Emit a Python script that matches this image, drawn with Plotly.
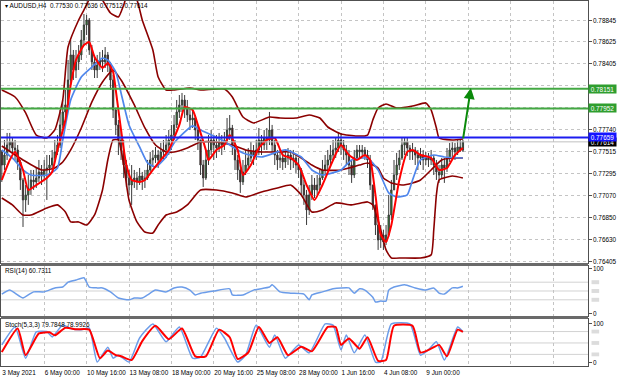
import plotly.graph_objects as go

# ---------------- data (AUDUSD H4, bar 0 = 3 May 2021 08:00) ----------------
first_open = 0.77512
closes = [
    0.77380, 0.77481, 0.77582, 0.77613, 0.77552, 0.77532, 0.77411, 0.77229, 0.77027, 0.77078,
    0.77148, 0.77229, 0.77209, 0.77249, 0.77310, 0.77269, 0.77330, 0.77350, 0.77380, 0.77451,
    0.77512, 0.77582, 0.77785, 0.77916, 0.77987, 0.78239, 0.78492, 0.78340, 0.78421, 0.78492,
    0.78643, 0.78795, 0.78845, 0.78542, 0.78421, 0.78340, 0.78390, 0.78441, 0.78421, 0.78492,
    0.78390, 0.78239, 0.77936, 0.77785, 0.77633, 0.77532, 0.77380, 0.77249, 0.77178, 0.77229,
    0.77249, 0.77209, 0.77269, 0.77229, 0.77249, 0.77330, 0.77431, 0.77451, 0.77481, 0.77431,
    0.77512, 0.77532, 0.77582, 0.77633, 0.77683, 0.77785, 0.77916, 0.77987, 0.78037, 0.77956,
    0.77885, 0.77835, 0.77855, 0.77734, 0.77633, 0.77380, 0.77249, 0.77431, 0.77532, 0.77633,
    0.77582, 0.77552, 0.77613, 0.77582, 0.77633, 0.77734, 0.77754, 0.77582, 0.77431, 0.77330,
    0.77209, 0.77310, 0.77380, 0.77451, 0.77512, 0.77481, 0.77532, 0.77633, 0.77582, 0.77653,
    0.77633, 0.77734, 0.77582, 0.77481, 0.77431, 0.77451, 0.77411, 0.77451, 0.77481, 0.77431,
    0.77451, 0.77380, 0.77330, 0.77178, 0.77078, 0.76926, 0.77078, 0.77178, 0.77128, 0.77178,
    0.77249, 0.77330, 0.77380, 0.77431, 0.77481, 0.77532, 0.77552, 0.77633, 0.77582, 0.77532,
    0.77481, 0.77380, 0.77279, 0.77451, 0.77532, 0.77512, 0.77532, 0.77481, 0.77431, 0.77178,
    0.76977, 0.76774, 0.76623, 0.76673, 0.76603, 0.76673, 0.76875, 0.77128, 0.77279, 0.77380,
    0.77451, 0.77582, 0.77613, 0.77552, 0.77512, 0.77532, 0.77481, 0.77451, 0.77481, 0.77431,
    0.77451, 0.77431, 0.77451, 0.77380, 0.77310, 0.77279, 0.77380, 0.77350, 0.77451, 0.77532,
    0.77552, 0.77512, 0.77562, 0.77530, 0.77614]
highs = [
    0.77532, 0.77633, 0.77704, 0.77704, 0.77653, 0.77633, 0.77582, 0.77431, 0.77249, 0.77178,
    0.77279, 0.77330, 0.77330, 0.77350, 0.77431, 0.77380, 0.77431, 0.77481, 0.77481, 0.77532,
    0.77633, 0.77683, 0.77936, 0.78037, 0.78138, 0.78441, 0.78643, 0.78542, 0.78542, 0.78592,
    0.78744, 0.78906, 0.78896, 0.78865, 0.78592, 0.78492, 0.78492, 0.78522, 0.78542, 0.78572,
    0.78522, 0.78421, 0.78290, 0.77956, 0.77835, 0.77734, 0.77633, 0.77431, 0.77330, 0.77380,
    0.77330, 0.77310, 0.77350, 0.77310, 0.77330, 0.77431, 0.77512, 0.77532, 0.77562, 0.77532,
    0.77603, 0.77633, 0.77683, 0.77734, 0.77785, 0.77885, 0.78037, 0.78087, 0.78108, 0.78087,
    0.78037, 0.77956, 0.77936, 0.77885, 0.77785, 0.77633, 0.77431, 0.77532, 0.77683, 0.77734,
    0.77683, 0.77683, 0.77704, 0.77683, 0.77714, 0.77855, 0.77885, 0.77785, 0.77633, 0.77481,
    0.77380, 0.77431, 0.77532, 0.77552, 0.77613, 0.77582, 0.77633, 0.77754, 0.77683, 0.77734,
    0.77754, 0.77916, 0.77785, 0.77633, 0.77532, 0.77532, 0.77512, 0.77532, 0.77552, 0.77532,
    0.77532, 0.77481, 0.77451, 0.77350, 0.77229, 0.77128, 0.77178, 0.77279, 0.77249, 0.77279,
    0.77330, 0.77431, 0.77481, 0.77532, 0.77582, 0.77633, 0.77653, 0.77704, 0.77704, 0.77633,
    0.77582, 0.77532, 0.77431, 0.77532, 0.77582, 0.77582, 0.77582, 0.77562, 0.77532, 0.77481,
    0.77178, 0.76977, 0.76825, 0.76774, 0.76724, 0.76774, 0.77078, 0.77229, 0.77431, 0.77502,
    0.77532, 0.77653, 0.77663, 0.77653, 0.77582, 0.77603, 0.77562, 0.77532, 0.77552, 0.77532,
    0.77512, 0.77502, 0.77532, 0.77481, 0.77431, 0.77380, 0.77451, 0.77451, 0.77552, 0.77603,
    0.77613, 0.77603, 0.77633, 0.77633, 0.77636]
lows = [
    0.77209, 0.77330, 0.77431, 0.77512, 0.77481, 0.77431, 0.77330, 0.77128, 0.76754, 0.76906,
    0.76977, 0.77078, 0.77128, 0.77148, 0.77209, 0.77178, 0.77229, 0.77027, 0.77279, 0.77350,
    0.77431, 0.77481, 0.77552, 0.77754, 0.77855, 0.77987, 0.78189, 0.78239, 0.78259, 0.78340,
    0.78441, 0.78592, 0.78693, 0.78492, 0.78340, 0.78259, 0.78259, 0.78340, 0.78320, 0.78360,
    0.78320, 0.78138, 0.77855, 0.77683, 0.77481, 0.77431, 0.77249, 0.77158, 0.77078, 0.76977,
    0.77148, 0.77128, 0.77178, 0.77128, 0.77148, 0.77229, 0.77310, 0.77360, 0.77401, 0.77350,
    0.77411, 0.77431, 0.77451, 0.77481, 0.77532, 0.77633, 0.77754, 0.77855, 0.77916, 0.77855,
    0.77815, 0.77734, 0.77754, 0.77633, 0.77532, 0.77279, 0.77158, 0.77229, 0.77380, 0.77481,
    0.77431, 0.77451, 0.77512, 0.77481, 0.77532, 0.77582, 0.77633, 0.77481, 0.77330, 0.77229,
    0.77098, 0.77178, 0.77279, 0.77350, 0.77411, 0.77380, 0.77431, 0.77481, 0.77481, 0.77532,
    0.77532, 0.77582, 0.77512, 0.77380, 0.77330, 0.77350, 0.77330, 0.77350, 0.77380, 0.77330,
    0.77350, 0.77300, 0.77249, 0.77078, 0.76977, 0.76774, 0.76875, 0.77027, 0.77047, 0.77078,
    0.77128, 0.77229, 0.77279, 0.77330, 0.77380, 0.77431, 0.77451, 0.77512, 0.77481, 0.77431,
    0.77380, 0.77279, 0.77199, 0.77249, 0.77431, 0.77451, 0.77461, 0.77431, 0.77350, 0.77128,
    0.76926, 0.76673, 0.76522, 0.76542, 0.76522, 0.76572, 0.76653, 0.76825, 0.77128, 0.77229,
    0.77330, 0.77431, 0.77481, 0.77471, 0.77431, 0.77431, 0.77380, 0.77330, 0.77380, 0.77330,
    0.77380, 0.77360, 0.77380, 0.77279, 0.77229, 0.77199, 0.77249, 0.77199, 0.77310, 0.77411,
    0.77461, 0.77431, 0.77481, 0.77512, 0.77512]

# Bollinger bands (dark red): bar index -> price
bb_up_x = [0, 5, 9, 13, 17, 20, 23, 25, 29, 32, 35, 38, 41, 44, 46, 48, 51, 53, 57, 59,
           62, 65, 71, 75, 84, 87, 91, 95, 101, 105, 111, 116, 120, 123, 128, 134, 138, 140, 142, 145,
           149, 155, 160, 162, 164, 165, 170, 174]
bb_up_y = [0.78138, 0.78067, 0.77906, 0.77683, 0.77653, 0.77734, 0.78037, 0.78572, 0.78845, 0.78997,
           0.79168, 0.79047, 0.78916, 0.78875, 0.78997, 0.79148, 0.79047, 0.78845, 0.78542, 0.78269,
           0.78138, 0.78138, 0.78158, 0.78138, 0.78148, 0.78067, 0.77865, 0.77805, 0.77865, 0.77855,
           0.77855, 0.77885, 0.77855, 0.77764, 0.77694, 0.77673, 0.77683, 0.77835, 0.77956, 0.77997,
           0.77956, 0.77976, 0.78007, 0.77936, 0.77754, 0.77653, 0.77633, 0.77643]
bb_mid_x = [0, 8, 15, 20, 23, 26, 30, 34, 38, 42, 45, 50, 54, 58, 62, 65, 70, 75, 81, 87,
            92, 98, 104, 109, 113, 117, 121, 128, 135, 138, 142, 144, 147, 151, 155, 158, 162, 166, 170, 174]
bb_mid_y = [0.77572, 0.77431, 0.77330, 0.77350, 0.77411, 0.77532, 0.77754, 0.78017, 0.78219, 0.78340,
            0.78239, 0.77987, 0.77754, 0.77582, 0.77512, 0.77512, 0.77552, 0.77613, 0.77613, 0.77582,
            0.77532, 0.77512, 0.77512, 0.77512, 0.77451, 0.77380, 0.77330, 0.77330, 0.77380, 0.77401,
            0.77350, 0.77249, 0.77199, 0.77178, 0.77199, 0.77229, 0.77330, 0.77431, 0.77451, 0.77451]
bb_low_x = [0, 4, 8, 11, 17, 21, 24, 26, 29, 32, 35, 38, 40, 42, 44, 46, 48, 51, 54, 57,
            59, 62, 66, 70, 75, 81, 87, 92, 98, 104, 109, 113, 117, 121, 126, 132, 138, 140, 143, 145,
            147, 151, 158, 162, 163, 164, 165, 170, 174]
bb_low_y = [0.77047, 0.76977, 0.76875, 0.76875, 0.76946, 0.76977, 0.76906, 0.76805, 0.76805, 0.76774,
            0.76875, 0.77128, 0.77431, 0.77633, 0.77633, 0.77380, 0.77027, 0.76805, 0.76703, 0.76693,
            0.76774, 0.76875, 0.76906, 0.76977, 0.77128, 0.77128, 0.77098, 0.77057, 0.77108, 0.77148,
            0.77178, 0.77078, 0.76906, 0.76926, 0.76997, 0.76977, 0.77007, 0.76977, 0.76724, 0.76522,
            0.76441, 0.76441, 0.76441, 0.76472, 0.76724, 0.77078, 0.77229, 0.77269, 0.77249]

# fast moving average (red)
ma_fast_x = [0, 3, 5, 8, 10, 13, 17, 19, 21, 24, 26, 28, 31, 33, 35, 38, 40, 42, 43, 45,
             47, 49, 52, 54, 57, 60, 63, 67, 69, 72, 74, 77, 78, 81, 84, 86, 89, 91, 94, 97,
             100, 103, 106, 109, 112, 115, 118, 121, 125, 128, 131, 134, 137, 139, 141, 143, 145, 147, 150, 153,
             155, 158, 162, 165, 168, 171, 174]
ma_fast_y = [0.77229, 0.77431, 0.77512, 0.77330, 0.77128, 0.77178, 0.77249, 0.77310, 0.77532, 0.77835,
             0.78189, 0.78441, 0.78592, 0.78622, 0.78471, 0.78360, 0.78411, 0.78320, 0.78138, 0.77734,
             0.77380, 0.77229, 0.77209, 0.77229, 0.77330, 0.77431, 0.77532, 0.77785, 0.77966, 0.77936,
             0.77785, 0.77532, 0.77431, 0.77532, 0.77582, 0.77683, 0.77532, 0.77279, 0.77380, 0.77552,
             0.77633, 0.77653, 0.77481, 0.77451, 0.77380, 0.77178, 0.77027, 0.77178, 0.77431, 0.77582,
             0.77481, 0.77431, 0.77481, 0.77431, 0.77078, 0.76673, 0.76603, 0.76774, 0.77229, 0.77512,
             0.77532, 0.77481, 0.77451, 0.77330, 0.77350, 0.77481, 0.77552]
# slow moving average (blue)
ma_slow_x = [0, 4, 8, 11, 17, 21, 23, 26, 30, 34, 38, 40, 43, 45, 48, 52, 55, 58, 62, 65,
             72, 75, 83, 91, 98, 107, 113, 117, 121, 128, 132, 138, 142, 146, 149, 153, 155, 158, 163, 167,
             174]
ma_slow_y = [0.77532, 0.77451, 0.77330, 0.77279, 0.77279, 0.77350, 0.77633, 0.78037, 0.78269, 0.78370,
             0.78461, 0.78441, 0.78320, 0.78108, 0.77785, 0.77562, 0.77401, 0.77360, 0.77461, 0.77603,
             0.77775, 0.77734, 0.77633, 0.77502, 0.77461, 0.77532, 0.77461, 0.77330, 0.77279, 0.77330,
             0.77431, 0.77451, 0.77330, 0.77098, 0.77057, 0.77078, 0.77229, 0.77431, 0.77481, 0.77461,
             0.77451]

# RSI(14)
rsi_x = [0, 3, 5, 8, 10, 12, 16, 20, 23, 25, 28, 31, 33, 36, 38, 41, 44, 48, 50, 53,
         55, 58, 62, 65, 68, 71, 73, 75, 80, 86, 87, 91, 95, 101, 102, 105, 109, 114, 116, 117,
         121, 125, 128, 131, 133, 135, 137, 140, 141, 143, 145, 146, 148, 152, 156, 160, 163, 165, 167, 170,
         172, 174]
rsi_v = [43, 52, 45, 34, 41, 48, 48, 57, 59, 70, 75, 80, 59, 57, 57, 48, 34, 30, 34, 34,
         41, 52, 48, 57, 59, 52, 41, 45, 50, 55, 41, 41, 52, 59, 64, 48, 45, 43, 30, 41,
         48, 55, 57, 57, 45, 55, 52, 36, 25, 27, 27, 52, 59, 64, 57, 52, 57, 45, 43, 57,
         57, 60.73]

# Stochastic(5,3,3): main (blue) and signal (red)
stoch_k_x = [0, 5, 9, 13, 17, 19, 23, 26, 30, 33, 36, 40, 42, 44, 48, 52, 57, 62, 67, 72,
             75, 81, 84, 89, 92, 96, 101, 103, 107, 112, 116, 122, 125, 128, 130, 133, 137, 141, 143, 147,
             154, 158, 161, 164, 167, 172, 174]
stoch_k_v = [45, 92, 10, 79, 80, 66, 97, 88, 85, 89, 0, 39, 10, 18, 0, 63, 100, 53, 92, 10,
             13, 89, 63, 0, 18, 97, 39, 71, 10, 45, 24, 100, 97, 32, 71, 24, 71, 0, 0, 100,
             100, 18, 32, 53, 5, 92, 79.78]
stoch_d_x = [0, 6, 9, 14, 18, 20, 24, 28, 33, 37, 40, 43, 45, 49, 53, 58, 63, 68, 73, 77,
             82, 86, 89, 93, 97, 101, 104, 108, 113, 117, 123, 126, 128, 131, 135, 138, 142, 145, 148, 155,
             158, 162, 165, 168, 172, 174]
stoch_d_v = [26, 88, 18, 75, 78, 70, 90, 86, 85, 10, 30, 18, 15, 5, 55, 95, 60, 88, 15, 15,
             85, 65, 8, 25, 92, 50, 65, 18, 40, 28, 92, 92, 45, 62, 35, 65, 3, 5, 95, 95,
             25, 35, 45, 15, 85, 78.99]

time_label_bars = [0, 16, 32, 48, 64, 80, 96, 112, 128, 144, 160]
time_labels = ["3 May 2021", "6 May 00:00", "10 May 16:00", "13 May 08:00", "18 May 00:00",
               "20 May 16:00", "25 May 08:00", "28 May 00:00", "1 Jun 16:00", "4 Jun 08:00",
               "9 Jun 00:00"]
grid_bars = [0, 16, 32, 48, 64, 80, 96, 112, 128, 144, 160, 176, 192, 208]
price_ticks = [0.78845, 0.78625, 0.78405, 0.78185, 0.77965, 0.77740, 0.77515,
               0.77295, 0.77070, 0.76850, 0.76630, 0.76405]
price_tick_labels = ["0.78845", "0.78625", "0.78405", "", "", "0.77740", "0.77515",
                     "0.77295", "0.77070", "0.76850", "0.76630", "0.76405"]

level_green_hi = 0.78151
level_green_lo = 0.77952
level_blue = 0.77659
last_price = 0.77614
arrow_tail = (174, 0.77633)
arrow_tip = (177, 0.78158)
header = "▾ AUDUSD,H4  0.77530 0.77636 0.77512 0.77614"
rsi_title = "RSI(14) 60.7311"
stoch_title = "Stoch(5,3,3) 79.7848 78.9926"
rsi_levels = [70, 50, 30]
stoch_levels = [80, 50, 20]

# ---------------- figure ----------------
W, H = 620, 382
FONT = "Liberation Sans, Arial, sans-serif"
FS = 6.4
GRID = "#c4c4c4"
FRAME = "#505050"
DARKRED = "#8b0000"

dom_main = [0.2822, 1.0]
dom_rsi = [0.137, 0.274]
dom_sto = [0.0, 0.1288]

opens = [first_open] + closes[:-1]
bars = list(range(len(closes)))

fig = go.Figure()
fig.add_trace(go.Candlestick(
    x=bars, open=opens, high=highs, low=lows, close=closes,
    increasing=dict(line=dict(color="#3a3a3a", width=1), fillcolor="#1f9a1f"),
    decreasing=dict(line=dict(color="#3a3a3a", width=1), fillcolor="#5a0000"),
    whiskerwidth=0, xaxis="x", yaxis="y", showlegend=False, hoverinfo="skip"))

def line(x, y, color, width, xa="x", ya="y"):
    fig.add_trace(go.Scatter(x=x, y=y, mode="lines", xaxis=xa, yaxis=ya,
                             line=dict(color=color, width=width, shape="spline", smoothing=0.5),
                             showlegend=False, hoverinfo="skip"))

line(bb_up_x, bb_up_y, DARKRED, 1.6)
line(bb_low_x, bb_low_y, DARKRED, 1.6)
line(bb_mid_x, bb_mid_y, DARKRED, 1.6)
line(ma_slow_x, ma_slow_y, "#4f86ec", 1.7)
line(ma_fast_x, ma_fast_y, "#ff0000", 2)
line(rsi_x, rsi_v, "#6b9ce9", 1.5, "x2", "y2")
line(stoch_k_x, stoch_k_v, "#6b9ce9", 1.5, "x3", "y3")
line(stoch_d_x, stoch_d_v, "#ff0000", 2, "x3", "y3")

shapes = []
def hline(y, color, width, yref="y", layer="above"):
    shapes.append(dict(type="line", xref="paper", x0=0, x1=1, yref=yref, y0=y, y1=y,
                       line=dict(color=color, width=width), layer=layer))

hline(last_price, "#c0c0c0", 1)
hline(level_green_hi, "#43a843", 2)
hline(level_green_lo, "#43a843", 2)
hline(level_blue, "#1c1cf0", 2)
for lv in rsi_levels:
    hline(lv, "#d2d2d2", 1, "y2", "below")
    shapes.append(dict(type="rect", xref="paper", x0=1.006, x1=1.019, yref="y2",
                       y0=lv - 4.5, y1=lv + 4.5, fillcolor="#dcdcdc", line=dict(width=0)))
for lv in stoch_levels:
    hline(lv, "#d2d2d2", 1, "y3", "below")
    shapes.append(dict(type="rect", xref="paper", x0=1.006, x1=1.019, yref="y3",
                       y0=lv - 5, y1=lv + 5, fillcolor="#dcdcdc", line=dict(width=0)))
# thick panel separators
for top, bot in [(dom_main[0], dom_rsi[1]), (dom_rsi[0], dom_sto[1])]:
    shapes.append(dict(type="rect", xref="paper", x0=0, x1=1, yref="paper", y0=bot, y1=top,
                       fillcolor="#6a6a6a", line=dict(width=0)))

txt = dict(family=FONT, size=FS, color="#000")
annotations = [
    dict(text=header, xref="paper", yref="paper", x=0.004, y=0.989, xanchor="left", yanchor="middle",
         showarrow=False, font=txt),
    dict(text=rsi_title, xref="paper", yref="paper", x=0.004, y=0.259, xanchor="left", yanchor="middle",
         showarrow=False, font=txt),
    dict(text=stoch_title, xref="paper", yref="paper", x=0.004, y=0.112, xanchor="left", yanchor="middle",
         showarrow=False, font=txt),
    dict(text="", x=arrow_tip[0], y=arrow_tip[1], ax=arrow_tail[0], ay=arrow_tail[1],
         xref="x", yref="y", axref="x", ayref="y", showarrow=True, arrowhead=2, arrowsize=1.1,
         arrowwidth=2, arrowcolor="#0b8a0b"),
]
# right-hand axis labels (price, RSI, Stoch)
for val, lab in zip(price_ticks, price_tick_labels):
    if lab:
        annotations.append(dict(text=lab, xref="paper", yref="y", x=1.0, y=val, xanchor="left",
                                yanchor="middle", xshift=3, showarrow=False, font=txt))
for ya, vals in [("y2", [0, 100]), ("y3", [0, 100])]:
    for v in vals:
        annotations.append(dict(text=str(v), xref="paper", yref=ya, x=1.0, y=v, xanchor="left",
                                yanchor="middle", xshift=3, showarrow=False, font=txt))
# current-price label first so the blue line label sits on top of it
for val, bg in [(last_price, "#000000"), (level_green_hi, "#2f9e2f"), (level_green_lo, "#2f9e2f"),
                (level_blue, "#1414ff")]:
    annotations.append(dict(text=f"{val:.5f}", xref="paper", yref="y", x=1.0, y=val,
                            xanchor="left", yanchor="middle", showarrow=False, bgcolor=bg,
                            borderpad=0, width=27, height=8,
                            font=dict(family=FONT, size=FS, color="#ffffff")))

axis_common = dict(showline=True, mirror=True, linecolor=FRAME, linewidth=1, zeroline=False,
                   tickfont=txt)
xcommon = dict(axis_common, range=[-0.3, 221.2], tickvals=grid_bars, showgrid=True,
               gridcolor=GRID, griddash="dot", gridwidth=1, ticks="")
x_text = time_labels + [""] * (len(grid_bars) - len(time_labels))
ycommon = dict(axis_common, side="right", showticklabels=False, ticks="outside", ticklen=3,
               tickcolor=FRAME)

fig.update_layout(
    width=W, height=H, margin=dict(l=1, r=32, t=1, b=16),
    paper_bgcolor="white", plot_bgcolor="white",
    shapes=shapes, annotations=annotations, showlegend=False,
    xaxis=dict(xcommon, anchor="y", showticklabels=False, rangeslider=dict(visible=False)),
    xaxis2=dict(xcommon, anchor="y2", matches="x", showticklabels=False),
    xaxis3=dict(xcommon, anchor="y3", matches="x", showticklabels=True, ticktext=x_text,
                tickangle=0, ticklabelposition="outside right"),
    yaxis=dict(ycommon, domain=dom_main, anchor="x", range=[0.7639, 0.79037],
               tickvals=price_ticks, showgrid=True, gridcolor=GRID, griddash="dot"),
    yaxis2=dict(ycommon, domain=dom_rsi, anchor="x2", range=[-6.8, 106.8],
                tickvals=[0, 100], showgrid=False),
    yaxis3=dict(ycommon, domain=dom_sto, anchor="x3", range=[-10.5, 113],
                tickvals=[0, 100], showgrid=False),
)

fig.write_html("out.html", config={"displayModeBar": False, "staticPlot": True},
               post_script="document.body.style.margin='0';")
